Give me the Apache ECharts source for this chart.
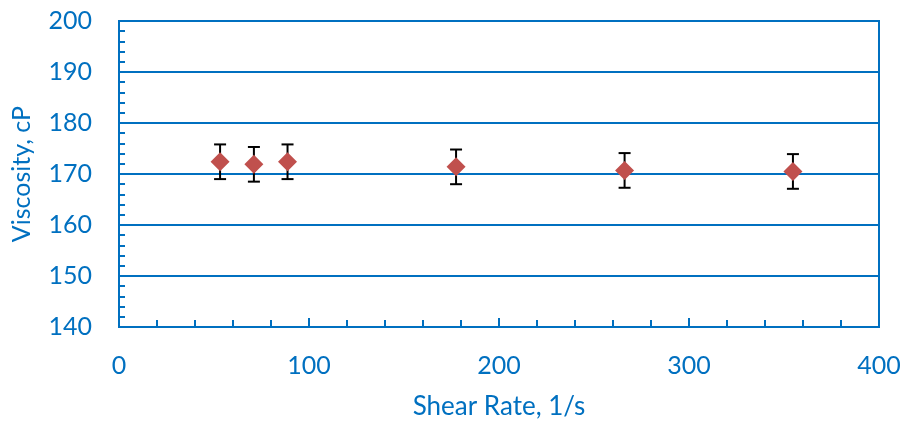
<!DOCTYPE html>
<html><head><meta charset="utf-8">
<script src="https://cdn.jsdelivr.net/npm/echarts@6/dist/echarts.min.js"></script>
<style>html,body{margin:0;padding:0;background:#fff}#c{width:902px;height:423px}</style>
</head><body><div id="c"></div>
<script>
const shearRate = [53.2, 71.0, 88.7, 177.4, 266.1, 354.7];
const viscosity = [172.4, 171.9, 172.4, 171.4, 170.7, 170.5];
const errorPlusMinus = [3.4, 3.4, 3.4, 3.4, 3.4, 3.4];
const xTitle = 'Shear Rate, 1/s';
const yTitle = 'Viscosity, cP';

const blue = '#0070C0';
const font = 'Lato, "Open Sans", sans-serif';
const pts = shearRate.map((x, i) => [x, viscosity[i]]);
const errs = shearRate.map((x, i) => [x, viscosity[i] - errorPlusMinus[i], viscosity[i] + errorPlusMinus[i]]);

const chart = echarts.init(document.getElementById('c'));
chart.setOption({
  animation: false,
  grid: {left: 119, right: 23, top: 21, bottom: 96, containLabel: false, outerBoundsMode: 'none',
         show: true, borderColor: blue, borderWidth: 2, backgroundColor: 'transparent'},
  xAxis: {
    type: 'value', min: 0, max: 400, interval: 100,
    name: xTitle, nameLocation: 'middle', nameGap: 67,
    nameTextStyle: {color: blue, fontSize: 26, fontFamily: font},
    axisLine: {lineStyle: {color: blue, width: 2}},
    axisTick: {show: true, inside: true, length: 9, lineStyle: {color: blue, width: 2}},
    minorTick: {show: true, splitNumber: 5, length: 7, lineStyle: {color: blue, width: 2}},
    axisLabel: {color: blue, fontSize: 25, fontFamily: font, margin: 26},
    splitLine: {show: false}
  },
  yAxis: {
    type: 'value', min: 140, max: 200, interval: 10,
    name: yTitle, nameLocation: 'middle', nameGap: 85,
    nameTextStyle: {color: blue, fontSize: 25, fontFamily: font},
    axisLine: {lineStyle: {color: blue, width: 2}},
    axisTick: {show: true, inside: true, length: 6, lineStyle: {color: blue, width: 2}},
    minorTick: {show: true, splitNumber: 5, length: 6, lineStyle: {color: blue, width: 2}},
    axisLabel: {color: blue, fontSize: 25, fontFamily: font, margin: 27},
    splitLine: {show: true, lineStyle: {color: blue, width: 2}}
  },
  series: [
    {
      type: 'custom',
      data: errs,
      z: 2,
      renderItem: function (params, api) {
        const x = api.value(0);
        const lo = api.coord([x, api.value(1)]);
        const hi = api.coord([x, api.value(2)]);
        const w = 6;
        const style = {stroke: '#000', lineWidth: 2};
        return {
          type: 'group',
          children: [
            {type: 'line', shape: {x1: lo[0], y1: lo[1], x2: hi[0], y2: hi[1]}, style},
            {type: 'line', shape: {x1: lo[0] - w, y1: lo[1], x2: lo[0] + w, y2: lo[1]}, style},
            {type: 'line', shape: {x1: hi[0] - w, y1: hi[1], x2: hi[0] + w, y2: hi[1]}, style}
          ]
        };
      }
    },
    {
      type: 'scatter',
      data: pts,
      z: 3,
      symbol: 'diamond',
      symbolSize: [19, 19],
      itemStyle: {color: '#C0504D', opacity: 1}
    }
  ]
});
</script></body></html>
